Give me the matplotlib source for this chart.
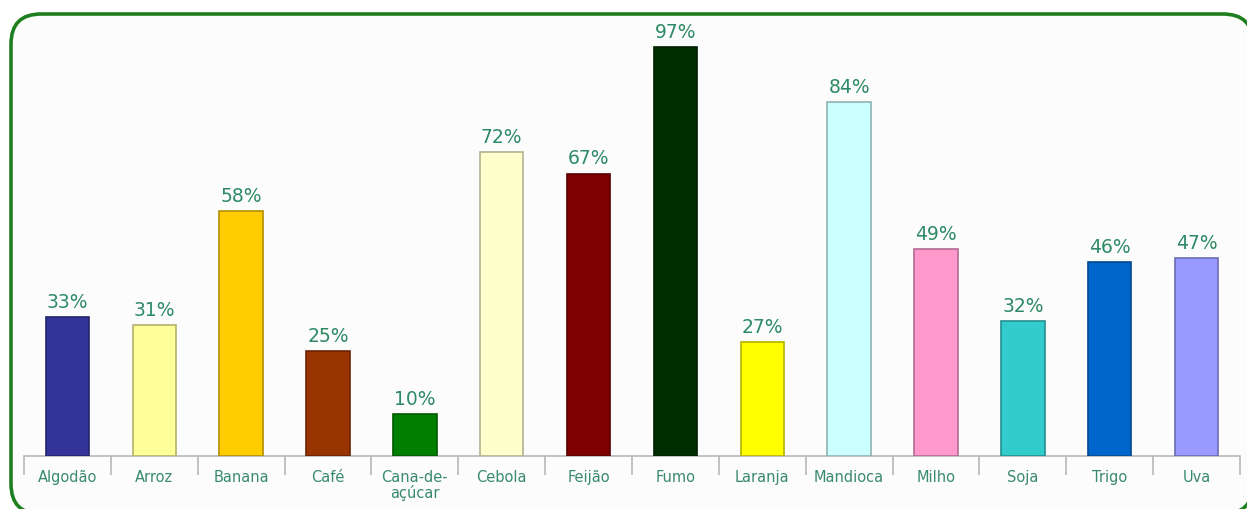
import matplotlib
matplotlib.use("Agg")
import matplotlib.pyplot as plt
from matplotlib.patches import FancyBboxPatch
from matplotlib.transforms import IdentityTransform
import matplotlib.colors as mcolors

categories = ["Algodão", "Arroz", "Banana", "Café", "Cana-de-\naçúcar", "Cebola", "Feijão",
              "Fumo", "Laranja", "Mandioca", "Milho", "Soja", "Trigo", "Uva"]
values = [33, 31, 58, 25, 10, 72, 67, 97, 27, 84, 49, 32, 46, 47]
colors = ["#333399", "#ffff99", "#ffcc00", "#993300", "#007f00", "#ffffcc", "#7f0000",
          "#002e00", "#ffff00", "#ccffff", "#ff99cc", "#33cccc", "#0066cc", "#9999ff"]

W, H = 1247, 509
fig = plt.figure(figsize=(W / 100, H / 100), dpi=100)
fig.patch.set_facecolor("white")

# rounded green frame (pixel coordinates, origin bottom-left); right/bottom run off the image
frame = FancyBboxPatch((11, -5), 1242, H - 14 + 5,
                       boxstyle="round,pad=0,rounding_size=30",
                       transform=IdentityTransform(), facecolor="#fcfcfc",
                       edgecolor="#1f7f1f", linewidth=2.6, zorder=-10)
fig.patches.append(frame)

ax = fig.add_axes([24 / W, (H - 456) / H, (1240 - 24) / W, (456 - 34.4) / H])
ax.set_facecolor("none")
ax.set_zorder(1)
n = len(categories)
x = list(range(n))
edge = [tuple(c * 0.7 for c in mcolors.to_rgb(col)) for col in colors]
ax.bar(x, values, width=0.5, color=colors, edgecolor=edge, linewidth=1.2, zorder=3)
for xi, v in zip(x, values):
    ax.text(xi, v + 1.2, f"{v}%", ha="center", va="bottom", fontsize=13.5,
            color="#2e8a66", zorder=4)

ax.set_xlim(-0.5, n - 0.5)
ax.set_ylim(0, 100)
for s in ["top", "right", "left"]:
    ax.spines[s].set_visible(False)
ax.spines["bottom"].set_color("#b8b8b8")
ax.spines["bottom"].set_linewidth(1.2)
ax.set_yticks([])
ax.set_xticks(x)
ax.set_xticklabels(categories, fontsize=10.5, color="#3a8a6c", linespacing=1.0)
ax.tick_params(axis="x", length=0, pad=10)
# boundary ticks
ax.set_xticks([i - 0.5 for i in range(n + 1)], minor=True)
ax.tick_params(axis="x", which="minor", length=14, color="#b8b8b8", width=1.2)

fig.savefig("out.png", dpi=100)
